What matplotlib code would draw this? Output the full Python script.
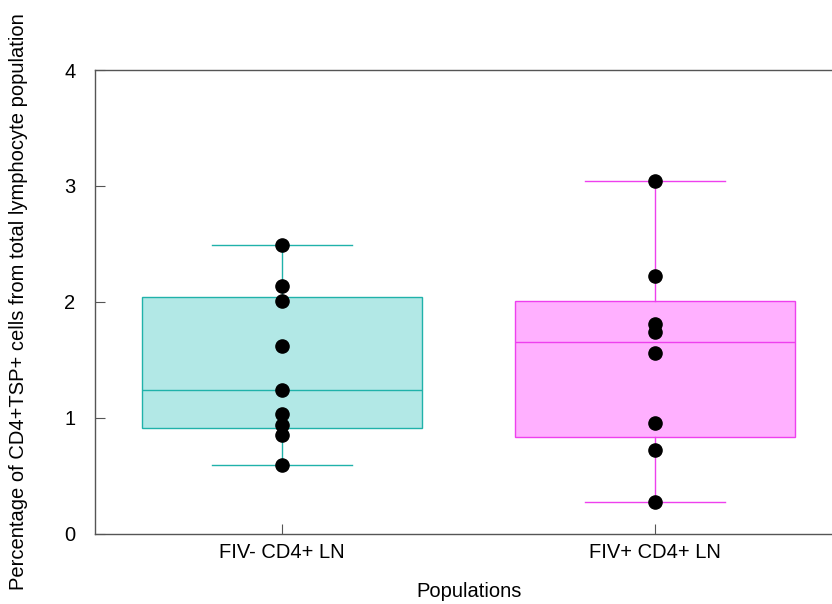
import matplotlib
matplotlib.use("Agg")
import matplotlib.pyplot as plt

plt.rcParams['font.family'] = ['Liberation Sans', 'DejaVu Sans']

groups = ["FIV- CD4+ LN", "FIV+ CD4+ LN"]
fiv_neg = [2.49, 2.14, 2.01, 1.62, 1.24, 1.03, 0.94, 0.85, 0.59]
fiv_pos = [3.04, 2.22, 1.81, 1.74, 1.56, 0.95, 0.72, 0.27]

# box statistics as drawn in the original
q1 = [0.91, 0.83]
med = [1.24, 1.65]
q3 = [2.04, 2.01]
whis_lo = [0.59, 0.27]
whis_hi = [2.49, 3.04]

fills = ["#b2e8e6", "#ffb0ff"]
edges = ["#20b2aa", "#ee40ee"]

fig = plt.figure(figsize=(8.32, 6.04), dpi=100)
ax = fig.add_axes([0.1142, 0.1167, 0.898, 0.7674])

for i in range(2):
    st = [dict(med=med[i], q1=q1[i], q3=q3[i], whislo=whis_lo[i], whishi=whis_hi[i], fliers=[])]
    c = edges[i]
    ax.bxp(st, positions=[i + 1], widths=0.75, patch_artist=True, showfliers=False,
           boxprops=dict(facecolor=fills[i], edgecolor=c, linewidth=1),
           medianprops=dict(color=c, linewidth=1),
           whiskerprops=dict(color=c, linewidth=1),
           capprops=dict(color=c, linewidth=1), capwidths=0.375)

for i, vals in enumerate([fiv_neg, fiv_pos]):
    ax.scatter([i + 1] * len(vals), vals, s=90, color="black", zorder=5)

ax.set_xlim(0.5, 2.5)
ax.set_ylim(0, 4)
ax.set_yticks([0, 1, 2, 3, 4])
ax.set_xticks([1, 2])
ax.set_xticklabels(groups)
ax.tick_params(direction="in", length=7, width=0.8, color="#555555", labelsize=14.5)
ax.tick_params(axis="y", pad=14)
ax.tick_params(axis="x", pad=7)
for s in ax.spines.values():
    s.set_color("#555555")
    s.set_linewidth(1)

ax.set_xlabel("Populations", fontsize=14.5, labelpad=14)
ax.set_ylabel("Percentage of CD4+TSP+ cells from total lymphocyte population", fontsize=14.5, labelpad=26)

fig.savefig("out.png", dpi=100)
